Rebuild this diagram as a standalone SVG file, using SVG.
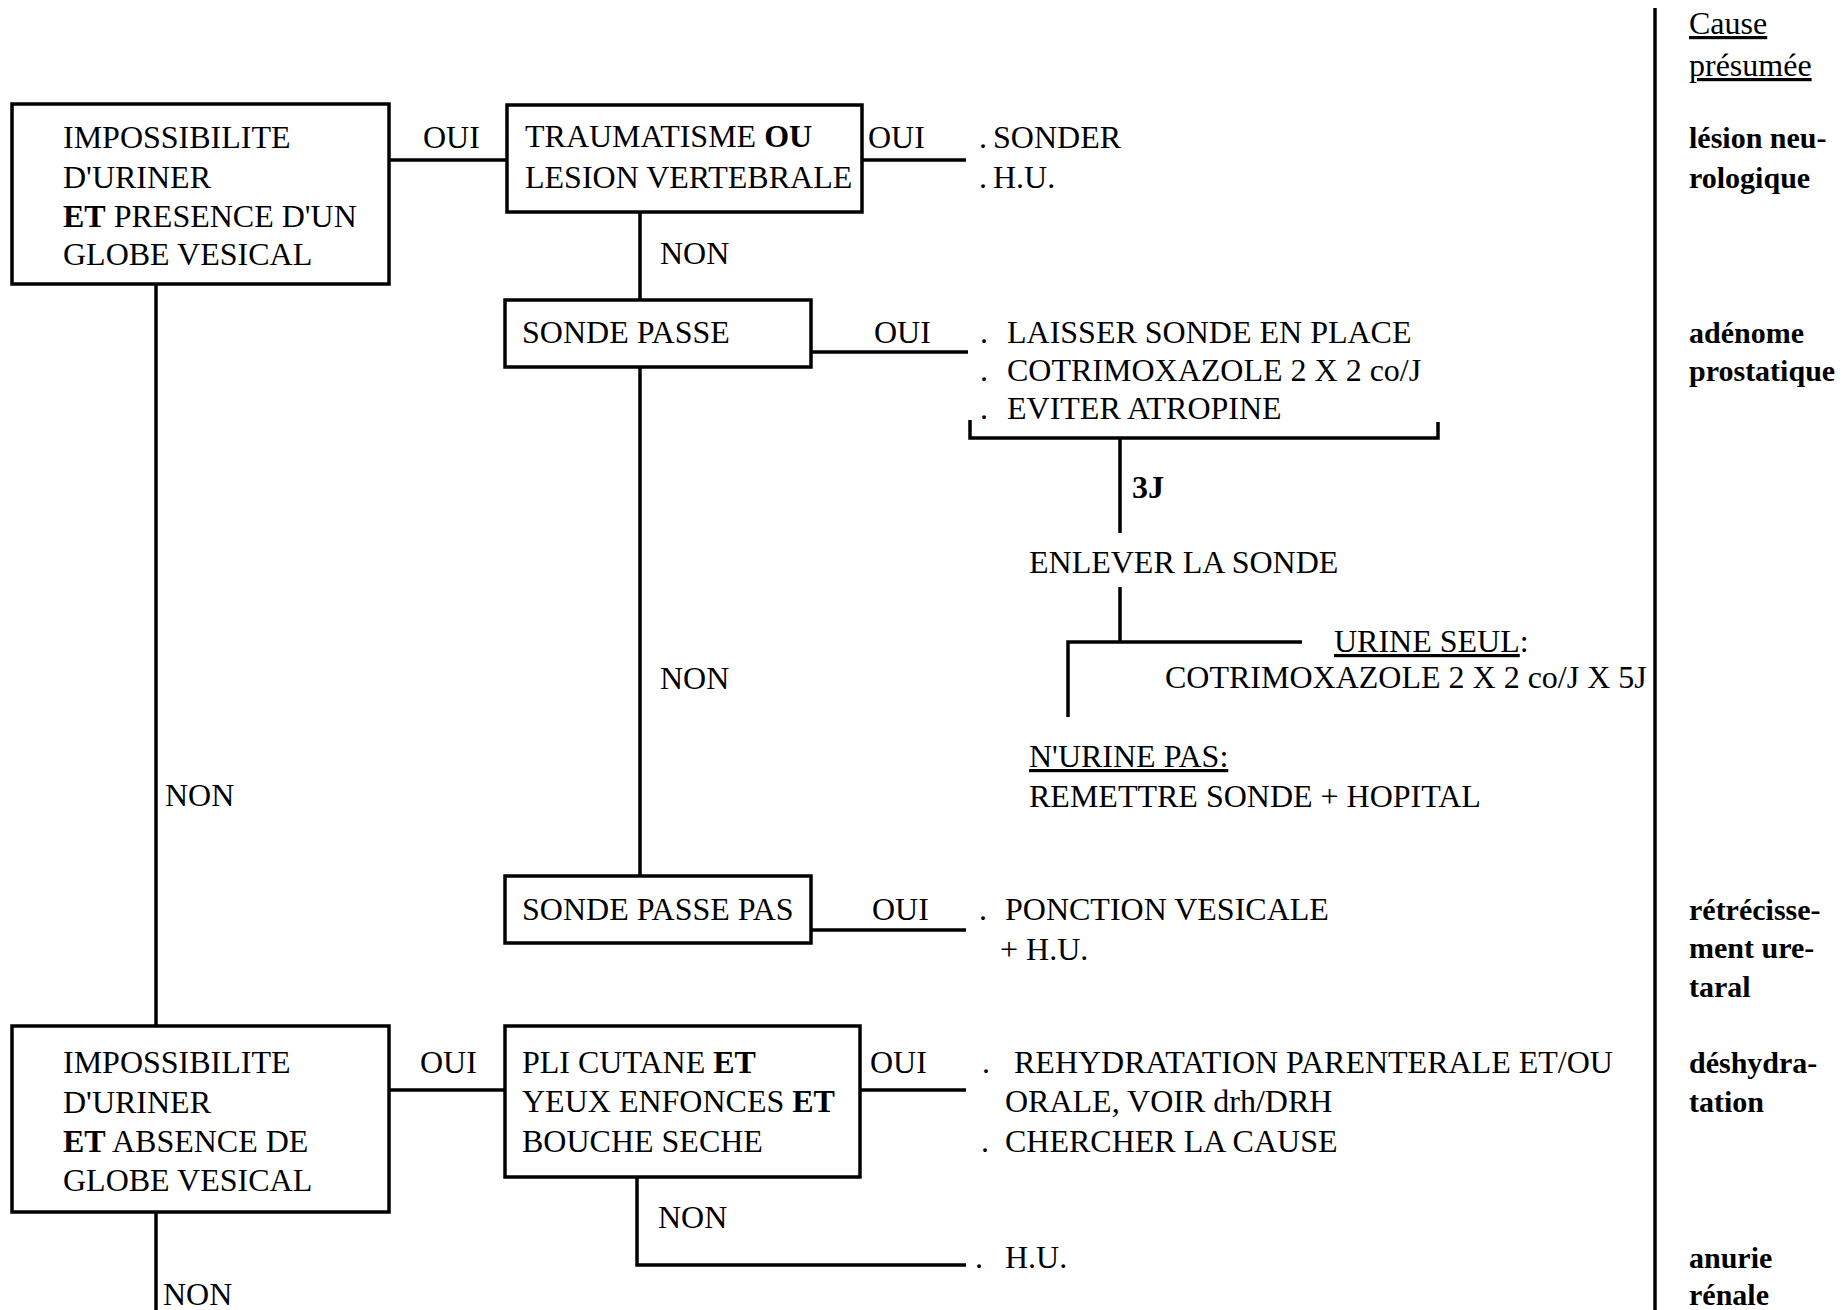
<svg xmlns="http://www.w3.org/2000/svg" width="1843" height="1310" viewBox="0 0 1843 1310">
<style>
text{font-family:"Liberation Serif","Times New Roman",serif;font-size:32px;fill:#000}
.b{font-weight:bold}
.r{font-weight:bold;font-size:30px}
.u{text-decoration:underline}
.box{fill:#fff;stroke:#000;stroke-width:3.5}
.ln{fill:none;stroke:#000;stroke-width:3.5}
</style>
<rect width="1843" height="1310" fill="#fff"/>
<g id="connectors">
<line class="ln" x1="389" y1="160" x2="507" y2="160"/>
<line class="ln" x1="862" y1="160" x2="966" y2="160"/>
<line class="ln" x1="640" y1="212" x2="640" y2="300"/>
<line class="ln" x1="811" y1="352" x2="968" y2="352"/>
<path class="ln" d="M970,420 V438 H1438 V422"/>
<line class="ln" x1="1120" y1="438" x2="1120" y2="533"/>
<line class="ln" x1="1120" y1="587" x2="1120" y2="642"/>
<path class="ln" d="M1302,642 H1068 V717"/>
<line class="ln" x1="640" y1="368" x2="640" y2="876"/>
<line class="ln" x1="811" y1="930" x2="966" y2="930"/>
<line class="ln" x1="156" y1="284" x2="156" y2="1026"/>
<line class="ln" x1="389" y1="1090" x2="505" y2="1090"/>
<line class="ln" x1="860" y1="1090" x2="966" y2="1090"/>
<path class="ln" d="M637,1177 V1265 H966"/>
<line class="ln" x1="156" y1="1212" x2="156" y2="1310"/>
<line class="ln" x1="1655" y1="8" x2="1655" y2="1310"/>
</g>
<g id="labels">
<text x="423" y="148">OUI</text>
<text x="868" y="148">OUI</text>
<text x="660" y="264">NON</text>
<text x="874" y="343">OUI</text>
<text x="1132" y="498" class="b">3J</text>
<text x="660" y="689">NON</text>
<text x="872" y="920">OUI</text>
<text x="165" y="806">NON</text>
<text x="420" y="1073">OUI</text>
<text x="870" y="1073">OUI</text>
<text x="658" y="1228">NON</text>
<text x="163" y="1305">NON</text>
</g>
<g id="node-globe-present">
<rect class="box" x="12" y="104" width="377" height="180"/>
<text x="63" y="148">IMPOSSIBILITE</text>
<text x="63" y="188">D'URINER</text>
<text x="63" y="227"><tspan class="b">ET</tspan> PRESENCE D'UN</text>
<text x="63" y="265">GLOBE VESICAL</text>
</g>
<g id="node-traumatisme">
<rect class="box" x="507" y="105" width="355" height="107"/>
<text x="525" y="147">TRAUMATISME <tspan class="b">OU</tspan></text>
<text x="525" y="188">LESION VERTEBRALE</text>
</g>
<g id="node-sonder">
<text x="979" y="148">.</text><text x="993" y="148">SONDER</text>
<text x="979" y="188">.</text><text x="993" y="188">H.U.</text>
</g>
<g id="node-sonde-passe">
<rect class="box" x="505" y="300" width="306" height="67"/>
<text x="522" y="343">SONDE PASSE</text>
</g>
<g id="node-laisser">
<text x="980" y="343">.</text><text x="1007" y="343">LAISSER SONDE EN PLACE</text>
<text x="980" y="381">.</text><text x="1007" y="381">COTRIMOXAZOLE 2 X 2 co/J</text>
<text x="980" y="419">.</text><text x="1007" y="419">EVITER ATROPINE</text>
</g>
<g id="node-enlever">
<text x="1029" y="573">ENLEVER LA SONDE</text>
</g>
<g id="node-urine-seul">
<text x="1334" y="652"><tspan class="u">URINE SEUL</tspan>:</text>
<text x="1165" y="688">COTRIMOXAZOLE 2 X 2 co/J X 5J</text>
</g>
<g id="node-urine-pas">
<text x="1029" y="767" class="u">N'URINE PAS:</text>
<text x="1029" y="807">REMETTRE SONDE + HOPITAL</text>
</g>
<g id="node-sonde-passe-pas">
<rect class="box" x="505" y="876" width="306" height="67"/>
<text x="522" y="920">SONDE PASSE PAS</text>
</g>
<g id="node-ponction">
<text x="979" y="920">.</text><text x="1005" y="920">PONCTION VESICALE</text>
<text x="1000" y="960">+ H.U.</text>
</g>
<g id="node-globe-absent">
<rect class="box" x="12" y="1026" width="377" height="186"/>
<text x="63" y="1073">IMPOSSIBILITE</text>
<text x="63" y="1113">D'URINER</text>
<text x="63" y="1152"><tspan class="b">ET</tspan> ABSENCE DE</text>
<text x="63" y="1191">GLOBE VESICAL</text>
</g>
<g id="node-pli-cutane">
<rect class="box" x="505" y="1026" width="355" height="151"/>
<text x="522" y="1073">PLI CUTANE <tspan class="b">ET</tspan></text>
<text x="522" y="1112">YEUX ENFONCES <tspan class="b">ET</tspan></text>
<text x="522" y="1152">BOUCHE SECHE</text>
</g>
<g id="node-rehydratation">
<text x="982" y="1073">.</text><text x="1014" y="1073">REHYDRATATION PARENTERALE ET/OU</text>
<text x="1005" y="1112">ORALE, VOIR drh/DRH</text>
<text x="981" y="1152">.</text><text x="1005" y="1152">CHERCHER LA CAUSE</text>
</g>
<g id="node-hu">
<text x="975" y="1268">.</text><text x="1005" y="1268">H.U.</text>
</g>
<g id="cause-column">
<text x="1689" y="34" class="u">Cause</text>
<text x="1689" y="76" class="u">présumée</text>
<text x="1689" y="148" class="r">lésion neu-</text>
<text x="1689" y="188" class="r">rologique</text>
<text x="1689" y="343" class="r">adénome</text>
<text x="1689" y="381" class="r">prostatique</text>
<text x="1689" y="920" class="r">rétrécisse-</text>
<text x="1689" y="958" class="r">ment ure-</text>
<text x="1689" y="997" class="r">taral</text>
<text x="1689" y="1073" class="r">déshydra-</text>
<text x="1689" y="1112" class="r">tation</text>
<text x="1689" y="1268" class="r">anurie</text>
<text x="1689" y="1305" class="r">rénale</text>
</g>
</svg>
